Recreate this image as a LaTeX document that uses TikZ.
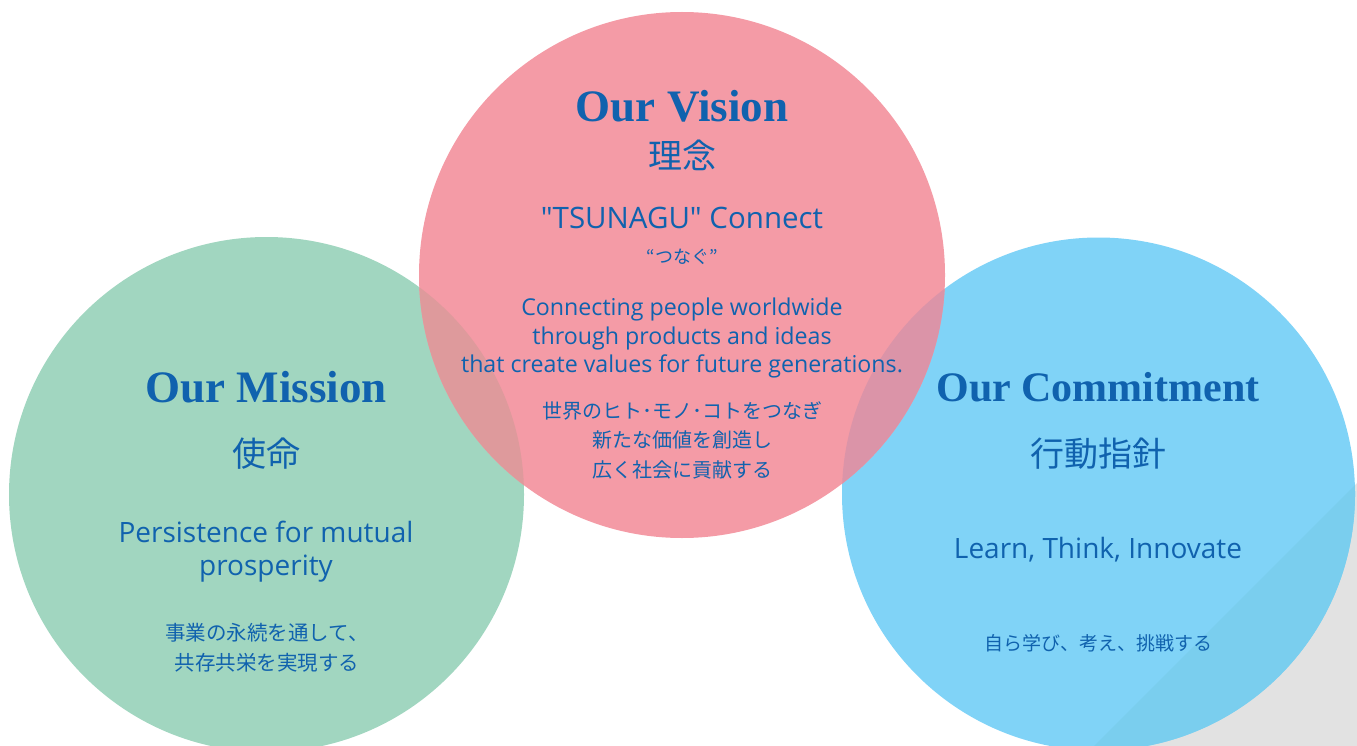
\documentclass[tikz,border=0pt]{standalone}
\usepackage{fontspec}
\setmainfont{Open Sans}
\newfontfamily\headfont{Liberation Serif}
\newfontfamily\jpfont{Noto Sans CJK JP}
\usetikzlibrary{positioning}
\definecolor{missiongreen}{HTML}{A1D6C0}
\definecolor{visionpink}{HTML}{F49BA6}
\definecolor{commitblue}{HTML}{80D3F7}
\definecolor{commitshade}{HTML}{7ACEEE}
\definecolor{shadowgray}{HTML}{E2E2E2}
\definecolor{pinkgreen}{HTML}{DE9A9C}
\definecolor{pinkblue}{HTML}{DB94A8}
\definecolor{textblue}{HTML}{1062AE}

\begin{document}
\begin{tikzpicture}[x=1pt,y=-1pt,
    heading/.style={text=textblue, inner sep=0pt, font=\headfont\bfseries\fontsize{45}{48}\selectfont},
    kanji/.style={text=textblue, inner sep=0pt, font=\jpfont\fontsize{34}{36}\selectfont},
    lead/.style={text=textblue, inner sep=0pt, align=center, font=\fontsize{28}{33}\selectfont},
    body/.style={text=textblue, inner sep=0pt, align=center, font=\fontsize{23.2}{28.5}\selectfont},
    jp/.style={text=textblue, inner sep=0pt, align=center, font=\jpfont\fontsize{20}{29.5}\selectfont}]
    \useasboundingbox (0,0) rectangle (1357,746);
    \clip (0,0) rectangle (1357,746);
    \coordinate (mission) at (266.5,494.5);
    \coordinate (vision) at (682,275);
    \coordinate (commit) at (1098.5,494);
    \fill[shadowgray] (1357,483) -- (1357,746) -- (1094,746) -- cycle;
    \fill[missiongreen] (mission) circle (257.5pt);
    \fill[commitblue] (commit) circle (256.5pt);
    \begin{scope}
        \clip (commit) circle (256.5pt);
        \fill[commitshade] (1357,483) -- (1357,770) -- (1070,770) -- cycle;
    \end{scope}
    \fill[visionpink] (vision) circle (263pt);
    \begin{scope}
        \clip (vision) circle (263pt);
        \fill[pinkgreen] (mission) circle (257.5pt);
        \fill[pinkblue] (commit) circle (256.5pt);
    \end{scope}

    \node[heading] (visionhead) at (682,106) {Our Vision};
    \node[kanji] (visionkanji) at (682,155) {理念};
    \node[lead, font=\fontsize{29.5}{33}\selectfont] (visionlead) at (682,218) {\textquotedbl TSUNAGU\textquotedbl{} Connect};
    \node[jp, font=\jpfont\fontsize{18}{20}\selectfont] (visionquote) at (682,257) {“つなぐ”};
    \node[body] (visiontext) at (682,338) {Connecting people worldwide\\through products and ideas\\that create values for future generations.};
    \node[jp] (visionjp) at (682,440) {世界のヒト･モノ･コトをつなぎ\\新たな価値を創造し\\広く社会に貢献する};

    \node[heading] (missionhead) at (266,387) {Our Mission};
    \node[kanji] (missionkanji) at (266,454) {使命};
    \node[lead] (missionlead) at (266,552) {Persistence for mutual\\prosperity};
    \node[jp, font=\jpfont\fontsize{20.5}{29.5}\selectfont] (missionjp) at (267,648) {事業の永続を通して、\\共存共栄を実現する};

    \node[heading, font=\headfont\bfseries\fontsize{42}{48}\selectfont] (commithead) at (1098,387) {Our Commitment};
    \node[kanji] (commitkanji) at (1098,454) {行動指針};
    \node[lead] (commitlead) at (1098,550) {Learn, Think, Innovate};
    \node[jp, font=\jpfont\fontsize{19}{29.5}\selectfont] (commitjp) at (1098,643) {自ら学び、考え、挑戦する};
\end{tikzpicture}
\end{document}
